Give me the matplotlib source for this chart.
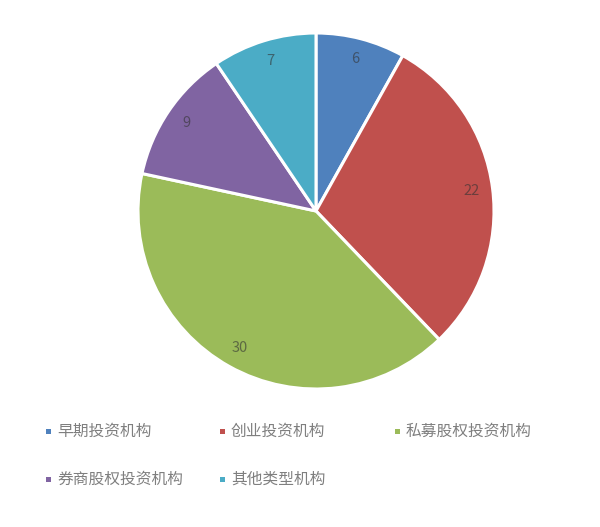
import matplotlib.pyplot as plt
from matplotlib.patches import Rectangle

plt.rcParams['font.family'] = ['Noto Sans CJK SC', 'DejaVu Sans']

categories = ['早期投资机构', '创业投资机构', '私募股权投资机构', '券商股权投资机构', '其他类型机构']
values = [6, 22, 30, 9, 7]
colors = ['#4F81BD', '#C0504D', '#9BBB59', '#8064A2', '#4BACC6']

fig = plt.figure(figsize=(6, 5.27), dpi=100)
W, H = 600, 527
cx, cy, r = 316, 211, 178
ax = fig.add_axes([(cx - r) / W, (H - cy - r) / H, 2 * r / W, 2 * r / H])

wedges, texts = ax.pie(values, labels=[str(v) for v in values], colors=colors,
                       startangle=90, counterclock=False, labeldistance=0.88,
                       wedgeprops=dict(edgecolor='white', linewidth=2.2),
                       textprops=dict(color='#333333', alpha=0.6, fontsize=10.5,
                                      fontweight='light'))
for t in texts:
    t.set_horizontalalignment('center')
    t.set_verticalalignment('center')
ax.set_xlim(-1, 1)
ax.set_ylim(-1, 1)
ax.set_aspect('equal')

# legend laid out like the office chart: fixed column grid, filled row by row
col_x = [48, 222, 397]
row_y = [431, 479]
for i, (name, c) in enumerate(zip(categories, colors)):
    x = col_x[i % 3]
    y = row_y[i // 3]
    fig.add_artist(Rectangle(((x - 2.5) / W, (H - y - 2.5) / H), 5 / W, 5 / H,
                             transform=fig.transFigure, facecolor=c, edgecolor='none'))
    fig.text((x + 9) / W, (H - y) / H, name, fontsize=11.3, color='#7f7f7f',
             fontweight='light', ha='left', va='center')

fig.savefig('out.png', dpi=100)
